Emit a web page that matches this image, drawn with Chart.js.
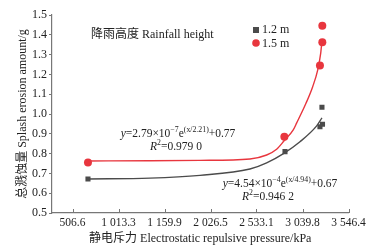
<!DOCTYPE html>
<html>
<head>
<meta charset="utf-8">
<script src="https://cdn.jsdelivr.net/npm/chart.js@4"></script>
<style>
  html, body { margin: 0; padding: 0; background: #fff; }
  #wrap { width: 373px; height: 246px; }
</style>
</head>
<body>
<div id="wrap"><canvas id="splashChart"></canvas></div>
<script>
// x ticks (as printed, including the odd third label)
const tickValues = [506.6, 1013.3, 1519.9, 2026.5, 2533.1, 3039.8, 3546.4];
const tickLabels = ['506.6', '1 013.3', '1 159.9', '2 026.5', '2 533.1', '3 039.8', '3 546.4'];

// measured points
const pressure12 = [677, 2847, 3232, 3260, 3254];
const splash12 = [0.672, 0.81, 0.936, 0.948, 1.034];
const pressure15 = [677, 2840, 3232, 3258, 3258];
const splash15 = [0.755, 0.885, 1.245, 1.362, 1.446];

// fitted curves
const fitX12 = [677, 1360, 1911, 2461, 2645, 2830, 3012, 3196, 3254];
const fitY12 = [0.672, 0.676, 0.69, 0.722, 0.753, 0.80, 0.86, 0.94, 0.98];
const fitX15 = [677, 1360, 1911, 2461, 2645, 2755, 2840, 2938, 2976, 3078, 3152, 3207, 3240, 3254];
const fitY15 = [0.763, 0.764, 0.766, 0.773, 0.793, 0.822, 0.866, 0.92, 0.955, 1.054, 1.138, 1.222, 1.306, 1.37];

const RED = '#e8363e';
const DARK = '#4b4b4b';
const AXIS = '#777';
const SERIF = '"Liberation Serif", "Noto Sans CJK SC", serif';

const pts = (xs, ys) => xs.map((x, i) => ({ x: x, y: ys[i] }));

// draws a run of [text, sup, italic] pieces starting at x
function drawRuns(ctx, runs, x, y, size) {
  runs.forEach(r => {
    const s = r[1] ? size * 0.68 : size;
    ctx.font = (r[2] ? 'italic ' : '') + s + 'px ' + SERIF;
    ctx.fillText(r[0], x, r[1] ? y - size * 0.38 : y);
    x += ctx.measureText(r[0]).width;
  });
}
function runsWidth(ctx, runs, size) {
  let w = 0;
  runs.forEach(r => {
    const s = r[1] ? size * 0.68 : size;
    ctx.font = (r[2] ? 'italic ' : '') + s + 'px ' + SERIF;
    w += ctx.measureText(r[0]).width;
  });
  return w;
}

const decorations = {
  id: 'decorations',
  afterDraw(chart) {
    const ctx = chart.ctx;
    const xs = chart.scales.x, ys = chart.scales.y;
    ctx.save();
    // inward x ticks
    ctx.strokeStyle = AXIS;
    ctx.lineWidth = 1;
    tickValues.forEach(v => {
      const px = Math.round(xs.getPixelForValue(v)) + 0.5;
      ctx.beginPath();
      ctx.moveTo(px, ys.bottom);
      ctx.lineTo(px, ys.bottom - 4);
      ctx.stroke();
    });

    ctx.fillStyle = '#222';
    ctx.textBaseline = 'middle';
    ctx.textAlign = 'left';
    ctx.font = '12px ' + SERIF;
    ctx.fillText('降雨高度 Rainfall height', 91, 35);

    // y axis title
    ctx.save();
    ctx.translate(23, (ys.top + ys.bottom) / 2);
    ctx.rotate(-Math.PI / 2);
    ctx.textAlign = 'center';
    ctx.fillText('总溅蚀量 Splash erosion amount/g', 0, 0);
    ctx.restore();

    // legend
    ctx.fillStyle = DARK;
    ctx.fillRect(253, 27, 6, 6);
    ctx.fillStyle = RED;
    ctx.beginPath();
    ctx.arc(256, 43, 3.8, 0, Math.PI * 2);
    ctx.fill();
    ctx.fillStyle = '#222';
    ctx.font = '12px ' + SERIF;
    ctx.fillText('1.2 m', 262, 30);
    ctx.fillText('1.5 m', 262, 43.5);

    // equations
    const eq15 = [['y', false, true], ['=2.79×10', false], ['−7', true], ['e', false], ['(x/2.21)', true, false], ['+0.77', false]];
    const r15 = [['R', false, true], ['2', true], ['=0.979 0', false]];
    const eq12 = [['y', false, true], ['=4.54×10', false], ['−4', true], ['e', false], ['(x/4.94)', true, false], ['+0.67', false]];
    const r12 = [['R', false, true], ['2', true], ['=0.946 2', false]];
    const sz = 11.5;
    drawRuns(ctx, eq15, 178 - runsWidth(ctx, eq15, sz) / 2, 134, sz);
    drawRuns(ctx, r15, 150, 147, sz);
    drawRuns(ctx, eq12, 280 - runsWidth(ctx, eq12, sz) / 2, 184, sz);
    drawRuns(ctx, r12, 242, 197, sz);
    ctx.restore();
  }
};

const ctx = document.getElementById('splashChart').getContext('2d');
new Chart(ctx, {
  type: 'scatter',
  data: {
    datasets: [
      {
        type: 'line',
        label: 'fit 1.5 m',
        data: pts(fitX15, fitY15),
        borderColor: RED,
        borderWidth: 1.4,
        pointRadius: 0,
        cubicInterpolationMode: 'monotone',
        fill: false
      },
      {
        type: 'line',
        label: 'fit 1.2 m',
        data: pts(fitX12, fitY12),
        borderColor: DARK,
        borderWidth: 1.4,
        pointRadius: 0,
        cubicInterpolationMode: 'monotone',
        fill: false
      },
      {
        label: '1.2 m',
        data: pts(pressure12, splash12),
        pointStyle: 'rect',
        pointRadius: 3.6,
        backgroundColor: DARK,
        borderColor: DARK,
        borderWidth: 0
      },
      {
        label: '1.5 m',
        data: pts(pressure15, splash15),
        pointStyle: 'circle',
        pointRadius: 4,
        backgroundColor: RED,
        borderColor: RED,
        borderWidth: 0
      }
    ]
  },
  options: {
    responsive: true,
    maintainAspectRatio: false,
    animation: false,
    layout: { padding: { top: 15, right: 24.5, left: 0, bottom: 0 } },
    plugins: {
      legend: { display: false },
      tooltip: { enabled: false }
    },
    scales: {
      x: {
        type: 'linear',
        min: 280.8,
        max: 3546.4,
        afterBuildTicks: axis => { axis.ticks = tickValues.map(v => ({ value: v })); },
        afterFit: axis => { axis.height = 33; },
        grid: { display: true, drawOnChartArea: false, drawTicks: false },
        border: { color: AXIS, width: 1.2 },
        ticks: {
          padding: 3,
          maxRotation: 0,
          autoSkip: false,
          color: '#222',
          font: { family: SERIF, size: 11.5 },
          callback: (v) => {
            const i = tickValues.indexOf(v);
            return i >= 0 ? tickLabels[i] : '';
          }
        },
        title: {
          display: true,
          text: '静电斥力 Electrostatic repulsive pressure/kPa',
          color: '#222',
          font: { family: SERIF, size: 12 },
          padding: { top: 1, bottom: 0 }
        }
      },
      y: {
        min: 0.5,
        max: 1.5,
        afterFit: axis => { axis.width = 52; },
        grid: { display: true, drawOnChartArea: false, drawTicks: true, tickLength: 3, color: AXIS },
        border: { color: AXIS, width: 1.2 },
        ticks: {
          stepSize: 0.1,
          padding: 2,
          color: '#222',
          font: { family: SERIF, size: 12 },
          callback: v => v.toFixed(1)
        }
      }
    }
  },
  plugins: [decorations]
});
</script>
</body>
</html>
